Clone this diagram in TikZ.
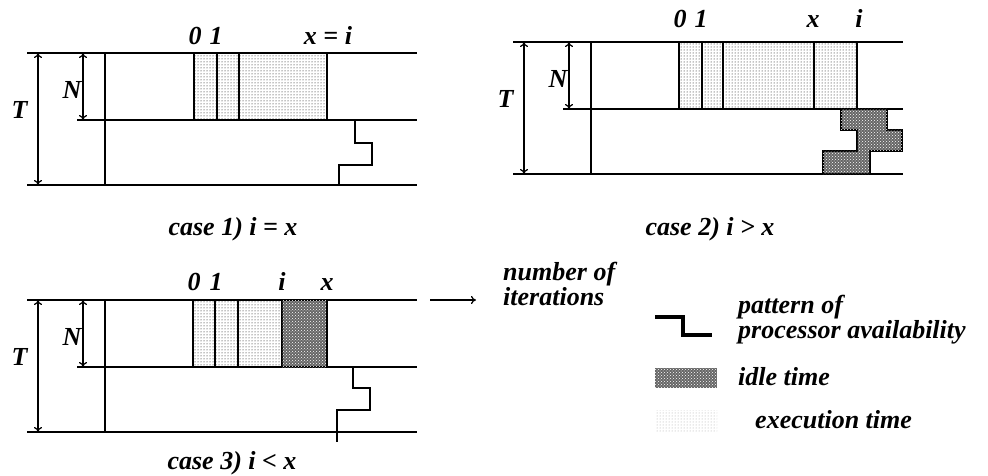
\documentclass[tikz,border=0pt]{standalone}
\usepackage{fontspec}
\setmainfont{Liberation Serif}
\usetikzlibrary{patterns,arrows.meta}
\tikzset{
  rule/.style={line width=1.9pt},
  cote/.style={line width=1.2pt,{To[length=5pt,width=8pt]}-{To[length=5pt,width=8pt]}},
  exec/.style={draw=black,line width=1.5pt,pattern=dots,pattern color=black},
  idle/.style={draw=black,line width=1.5pt,fill=black!60,postaction={pattern=crosshatch dots,pattern color=white}},
  avail/.style={line width=2.6pt},
  lbl/.style={font=\fontsize{26}{19}\selectfont\bfseries\itshape,inner sep=0pt},
}
\begin{document}
\begin{tikzpicture}[x=1pt,y=-1pt]
\useasboundingbox (0,0) rectangle (988,476);
%Cadres
\foreach \dx/\dy/\c in {0/0/1,486/-11/2,0/247/3}{
  \begin{scope}[shift={(\dx,\dy)}]
    \draw[rule] (27,53) -- (417,53);
    \draw[rule] (77,120) -- (417,120);
    \draw[rule] (27,185) -- (417,185);
    \draw[rule] (105,53) -- (105,185);
    \draw[cote] (38,53) -- (38,185) node[lbl,pos=0.43,left=10pt] (T\c) {T};
    \draw[cote] (83,53) -- (83,120) node[lbl,pos=0.55,left=1pt] (N\c) {N};
  \end{scope}
}
%Cas 1
\draw[exec] (194,53) rectangle (217,120);
\draw[exec] (217,53) rectangle (239,120);
\draw[exec] (239,53) rectangle (327,120);
\draw[avail] (355,120) -- (355,143) -- (372,143) -- (372,165) -- (339,165) -- (339,185);
\node[lbl,anchor=base] (zero1) at (195,45) {0};
\node[lbl,anchor=base] (one1) at (216,45) {1};
\node[lbl,anchor=base] (xi1) at (328,45) {x = i};
\node[lbl,anchor=base] (case1) at (233,235) {case 1) i = x};
%Cas 2
\begin{scope}[shift={(486,-11)}]
  \draw[exec] (193,53) rectangle (216,120);
  \draw[exec] (216,53) rectangle (237,120);
  \draw[exec] (237,53) rectangle (328,120);
  \draw[exec] (328,53) rectangle (371,120);
  \draw[idle] (355,120) -- (401,120) -- (401,141) -- (416,141) -- (416,162) -- (384,162)
    -- (384,185) -- (337,185) -- (337,162) -- (371,162) -- (371,141) -- (355,141) -- cycle;
  \node[lbl,anchor=base] (zero2) at (194,39) {0};
  \node[lbl,anchor=base] (one2) at (215,39) {1};
  \node[lbl,anchor=base] (x2) at (327,39) {x};
  \node[lbl,anchor=base] (i2) at (373,39) {i};
  \node[lbl,anchor=base] (case2) at (224,246) {case 2) i > x};
\end{scope}
%Cas 3
\begin{scope}[shift={(0,247)}]
  \draw[exec] (193,53) rectangle (215,120);
  \draw[exec] (215,53) rectangle (238,120);
  \draw[exec] (238,53) rectangle (282,120);
  \draw[idle] (282,53) rectangle (327,120);
  \draw[avail] (327,53) -- (327,120) -- (353,120) -- (353,141) -- (370,141) -- (370,163) -- (337,163) -- (337,195);
  \node[lbl,anchor=base] (zero3) at (194,43) {0};
  \node[lbl,anchor=base] (one3) at (216,43) {1};
  \node[lbl,anchor=base] (i3) at (282,43) {i};
  \node[lbl,anchor=base] (x3) at (327,43) {x};
  \node[lbl,anchor=base] (case3) at (232,222) {case 3) i < x};
\end{scope}
%Legende
\coordinate (arr) at (430,300);
\node[lbl,align=left,anchor=base west] (iter) at (503,305) {number of\\iterations};
\draw[line width=1.2pt,-{To[length=5pt,width=8pt]}] (arr) -- (476,300);
\draw[line width=3.2pt] (655,317) -- (683,317) -- (683,335) -- (712,335);
\node[lbl,align=left,anchor=base west] (proc) at (738,338) {pattern of\\processor availability};
\fill[black!60,postaction={pattern=crosshatch dots,pattern color=white}] (655,368) rectangle (717,388);
\node[lbl,anchor=base west] (idle) at (738,385) {idle time};
\fill[pattern=dots,pattern color=black!35] (655,410) rectangle (717,432);
\node[lbl,anchor=base west] (ex) at (755,428) {execution time};
\end{tikzpicture}
\end{document}
